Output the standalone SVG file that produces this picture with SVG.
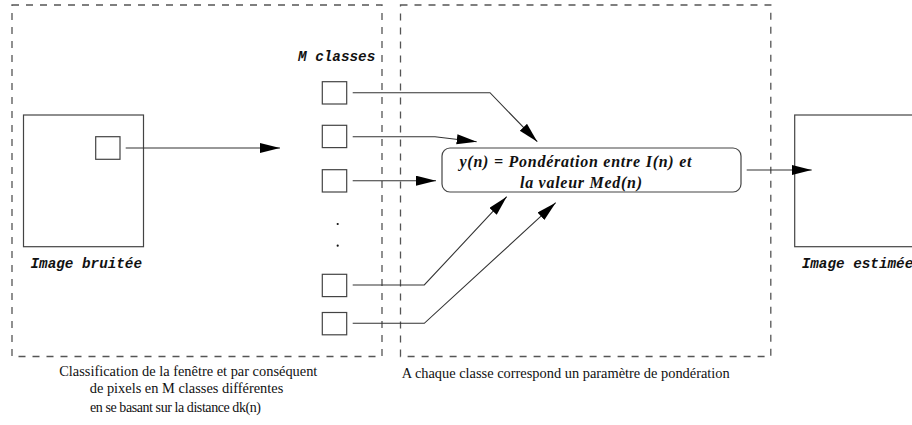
<svg xmlns="http://www.w3.org/2000/svg" width="912" height="425" viewBox="0 0 912 425">
  <style>
    .frame { fill: none; stroke: #555; stroke-width: 1.3; stroke-dasharray: 7 7; }
    .box { fill: #fff; stroke: #444; stroke-width: 1.2; }
    .wire { fill: none; stroke: #333; stroke-width: 1.1; }
    .mono { font-family: "Liberation Mono", "Courier New", monospace; font-weight: bold; font-style: italic; font-size: 14.3px; fill: #111; }
    .formula { font-family: "Liberation Serif", "Times New Roman", serif; font-weight: bold; font-style: italic; font-size: 16px; fill: #111; }
    .caption { font-family: "Liberation Serif", "Times New Roman", serif; font-size: 14.4px; fill: #111; }
  </style>
  <defs>
    <marker id="arrow" markerUnits="userSpaceOnUse" markerWidth="21" markerHeight="11" refX="20" refY="5" orient="auto">
      <path d="M0,0 L20,5 L0,10 z" fill="#000"/>
    </marker>
  </defs>

  <rect width="912" height="425" fill="#fff"/>

  <!-- dashed processing frames -->
  <g id="frames">
    <rect class="frame" x="12" y="5" width="370" height="351.5"/>
    <rect class="frame" x="400.5" y="5" width="370.3" height="351.5"/>
  </g>

  <!-- noisy input image with its analysis window -->
  <g id="image-bruitee">
    <rect class="box" x="23.5" y="115" width="120" height="131.7"/>
    <rect class="box" x="95.7" y="136.7" width="24.3" height="22.6"/>
    <text class="mono" x="30.5" y="268.3">Image bruitée</text>
  </g>

  <!-- class boxes -->
  <g id="classes">
    <text class="mono" x="298" y="60.5">M classes</text>
    <rect class="box" x="322.3" y="81.7" width="24.4" height="22.3"/>
    <rect class="box" x="322.3" y="125.3" width="24.4" height="22.3"/>
    <rect class="box" x="322.3" y="169.7" width="24.4" height="22.3"/>
    <circle cx="337.7" cy="224" r="1.1" fill="#111"/>
    <circle cx="337.7" cy="245.7" r="1.1" fill="#111"/>
    <rect class="box" x="322.3" y="274.3" width="24.4" height="22.3"/>
    <rect class="box" x="322.3" y="312.5" width="24.4" height="22.3"/>
  </g>

  <!-- weighting block -->
  <g id="ponderation">
    <rect class="box" x="442" y="148" width="299" height="44" rx="8" ry="8"/>
    <text class="formula" x="459.5" y="166.5" textLength="232" lengthAdjust="spacing">y(n) = Pondération entre I(n) et</text>
    <text class="formula" x="520" y="187.5" textLength="122" lengthAdjust="spacing">la valeur Med(n)</text>
  </g>

  <!-- estimated output image -->
  <g id="image-estimee">
    <rect class="box" x="794.7" y="115" width="130" height="131.7"/>
    <text class="mono" x="801.7" y="268.3">Image estimée</text>
  </g>

  <!-- connectors -->
  <g id="connectors">
    <line class="wire" x1="125.7" y1="148" x2="280" y2="148" marker-end="url(#arrow)"/>
    <polyline class="wire" points="352.7,92.7 490,92.7 537.3,141.7" marker-end="url(#arrow)"/>
    <polyline class="wire" points="352.7,136.7 435,136.7 476.7,141.7" marker-end="url(#arrow)"/>
    <line class="wire" x1="352.7" y1="180.7" x2="436" y2="180.7" marker-end="url(#arrow)"/>
    <polyline class="wire" points="352.7,285 424.3,285 506.7,196.7" marker-end="url(#arrow)"/>
    <polyline class="wire" points="352.7,323.3 424.3,323.3 555.7,202.7" marker-end="url(#arrow)"/>
    <line class="wire" x1="746.7" y1="170" x2="811.7" y2="170" marker-end="url(#arrow)"/>
  </g>

  <!-- captions -->
  <g id="captions">
    <text class="caption" text-anchor="middle" x="188.3" y="375.7">Classification de la fenêtre et par conséquent</text>
    <text class="caption" text-anchor="middle" x="186.5" y="393">de pixels en M classes différentes</text>
    <text class="caption" x="90" y="411.7" style="font-size:14px" textLength="171" lengthAdjust="spacing">en se basant sur la distance dk(n)</text>
    <text class="caption" x="401.7" y="378.3">A chaque classe correspond un paramètre de pondération</text>
  </g>
</svg>
